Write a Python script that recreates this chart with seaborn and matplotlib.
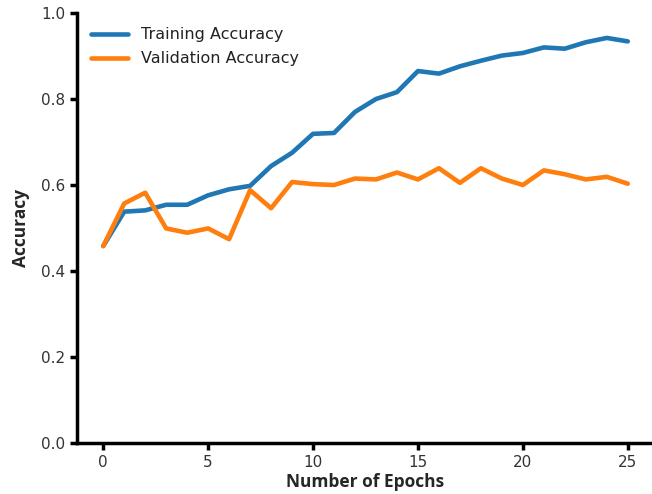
import pandas as pd
import numpy as np
import matplotlib
matplotlib.use("Agg")
import matplotlib.pyplot as plt
import seaborn as sns

#Data
epochs = list(range(26))
train_acc = [0.458, 0.538, 0.541, 0.554, 0.554, 0.576, 0.590, 0.598, 0.644, 0.675,
             0.719, 0.721, 0.770, 0.800, 0.816, 0.865, 0.859, 0.876, 0.889, 0.901,
             0.907, 0.920, 0.917, 0.932, 0.942, 0.934]
val_acc = [0.458, 0.557, 0.582, 0.499, 0.489, 0.499, 0.474, 0.588, 0.546, 0.607,
           0.602, 0.600, 0.615, 0.613, 0.629, 0.613, 0.639, 0.605, 0.639, 0.615,
           0.600, 0.634, 0.625, 0.613, 0.619, 0.603]
series_names = ["Training Accuracy", "Validation Accuracy"]

df = pd.DataFrame({
    "epoch": epochs * 2,
    "acc": train_acc + val_acc,
    "series": [series_names[0]] * len(epochs) + [series_names[1]] * len(epochs),
})

#Plotting
sns.set_style("ticks")
plt.rcParams['font.family'] = ['DejaVu Sans']

fig = plt.figure(figsize=(6.52, 4.94), dpi=100)
ax = fig.add_axes([77 / 652, 51 / 494, 577 / 652, 430 / 494])

sns.lineplot(data=df, x="epoch", y="acc", hue="series",
             palette=["#1f77b4", "#ff7f0e"], linewidth=3.3, ax=ax)

ax.set_xlim(-1.25, 26.25)
ax.set_ylim(0, 1.0)
ax.set_xticks([0, 5, 10, 15, 20, 25])
ax.set_yticks([0.0, 0.2, 0.4, 0.6, 0.8, 1.0])
ax.set_yticklabels([f"{v:.1f}" for v in [0.0, 0.2, 0.4, 0.6, 0.8, 1.0]])

label_font = dict(family=['Open Sans', 'DejaVu Sans'], size=12.5, weight='bold')
ax.set_xlabel("Number of Epochs", fontdict=label_font, labelpad=2)
ax.set_ylabel("Accuracy", fontdict=label_font, labelpad=8)
ax.tick_params(axis='both', labelsize=11, width=2.5, length=5, color='black',
               labelcolor='#333333')

for side in ['left', 'bottom']:
    ax.spines[side].set_linewidth(2.5)
    ax.spines[side].set_color('black')
sns.despine(ax=ax)

leg = ax.legend(loc='upper left', frameon=False, fontsize=11.5,
                handlelength=2.3, labelspacing=0.55, borderaxespad=0.5,
                bbox_to_anchor=(0.0, 1.0))
for line in leg.get_lines():
    line.set_linewidth(3.3)
for t in leg.get_texts():
    t.set_color('#222222')

fig.savefig("out.png", dpi=100)
